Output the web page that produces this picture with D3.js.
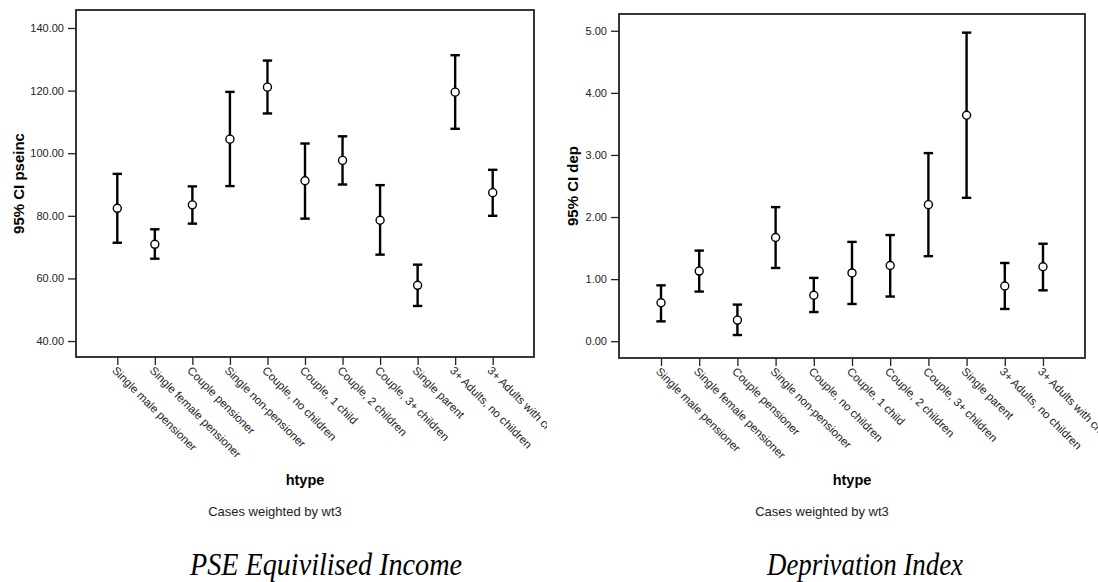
<!DOCTYPE html>
<html>
<head>
<meta charset="utf-8">
<script src="https://cdn.jsdelivr.net/npm/d3@7"></script>
<style>
  body { margin: 0; background: #fff; }
  svg { display: block; }
  .tick text { font-family: "Liberation Sans", Arial, sans-serif; fill: #222; }
</style>
</head>
<body>
<svg id="chart" width="1098" height="582"></svg>
<script>
// household types (x categories, same for both panels)
const categories = [
  "Single male pensioner", "Single female pensioner", "Couple pensioner",
  "Single non-pensioner", "Couple, no children", "Couple, 1 child",
  "Couple, 2 children", "Couple, 3+ children", "Single parent",
  "3+ Adults, no children", "3+ Adults with children"
];

// PSE equivalised income: mean and 95% CI
const incomeMean  = [82.4, 70.9, 83.5, 104.5, 121.1, 91.2, 97.7, 78.6, 57.8, 119.5, 87.4];
const incomeLower = [71.4, 66.3, 77.5, 89.5, 112.7, 79.1, 90.0, 67.6, 51.2, 107.8, 80.0];
const incomeUpper = [93.4, 75.7, 89.4, 119.6, 129.6, 103.1, 105.4, 89.8, 64.4, 131.3, 94.7];
const incomeTicks = [40, 60, 80, 100, 120, 140];

// deprivation index: mean and 95% CI
const depMean  = [0.62, 1.13, 0.34, 1.67, 0.74, 1.10, 1.22, 2.20, 3.64, 0.89, 1.20];
const depLower = [0.32, 0.80, 0.10, 1.18, 0.47, 0.60, 0.72, 1.37, 2.31, 0.52, 0.82];
const depUpper = [0.90, 1.46, 0.59, 2.16, 1.02, 1.60, 1.71, 3.03, 4.97, 1.26, 1.57];
const depTicks = [0, 1, 2, 3, 4, 5];

const svg = d3.select("#chart");

function drawPanel(opt) {
    const g = svg.append("g").attr("clip-path", `url(#${opt.id}-clip)`);
    svg.append("clipPath").attr("id", `${opt.id}-clip`)
        .append("rect").attr("x", opt.clip[0]).attr("y", 0)
        .attr("width", opt.clip[1] - opt.clip[0]).attr("height", 582);

    const x = d3.scalePoint().domain(categories)
        .range([opt.left, opt.right]).padding(1.1);
    const y = d3.scaleLinear().domain(opt.domain).range([opt.bottom, opt.top]);

    const rows = categories.map((c, i) => ({
        cat: c, mean: opt.mean[i], lo: opt.lower[i], hi: opt.upper[i]
    }));

    // frame
    g.append("rect")
        .attr("x", opt.left).attr("y", opt.top)
        .attr("width", opt.right - opt.left).attr("height", opt.bottom - opt.top)
        .attr("fill", "none").attr("stroke", "#222").attr("stroke-width", 1.8);

    // y axis
    const ya = g.append("g")
        .attr("transform", `translate(${opt.left},0)`)
        .call(d3.axisLeft(y).tickValues(opt.ticks).tickFormat(d3.format(".2f")).tickSize(8).tickPadding(4));
    ya.select(".domain").remove();
    ya.selectAll(".tick line").attr("stroke", "#222").attr("stroke-width", 1.3);
    ya.selectAll(".tick text").style("font-size", "11px");

    // x axis with slanted labels
    const xa = g.append("g")
        .attr("transform", `translate(0,${opt.bottom})`)
        .call(d3.axisBottom(x).tickSize(8).tickSizeOuter(0));
    xa.select(".domain").remove();
    xa.selectAll(".tick line").attr("stroke", "#222").attr("stroke-width", 1.3);
    xa.selectAll(".tick text")
        .style("font-size", "11.5px")
        .attr("text-anchor", "start")
        .attr("transform", "translate(0,8) rotate(45)")
        .attr("x", 0).attr("y", 0).attr("dy", "0.78em");

    // error bars
    const capW = 4.7;
    const bars = g.append("g").attr("stroke", "#000").attr("stroke-width", 2.4);
    bars.selectAll("line.ci").data(rows).join("line").attr("class", "ci")
        .attr("x1", d => x(d.cat)).attr("x2", d => x(d.cat))
        .attr("y1", d => y(d.lo)).attr("y2", d => y(d.hi));
    bars.selectAll("line.cap-hi").data(rows).join("line").attr("class", "cap-hi")
        .attr("x1", d => x(d.cat) - capW).attr("x2", d => x(d.cat) + capW)
        .attr("y1", d => y(d.hi)).attr("y2", d => y(d.hi));
    bars.selectAll("line.cap-lo").data(rows).join("line").attr("class", "cap-lo")
        .attr("x1", d => x(d.cat) - capW).attr("x2", d => x(d.cat) + capW)
        .attr("y1", d => y(d.lo)).attr("y2", d => y(d.lo));

    g.selectAll("circle.mean").data(rows).join("circle").attr("class", "mean")
        .attr("cx", d => x(d.cat)).attr("cy", d => y(d.mean)).attr("r", 4)
        .attr("fill", "#fff").attr("stroke", "#000").attr("stroke-width", 1.4);

    // labels
    const cx = (opt.left + opt.right) / 2;
    g.append("text")
        .attr("transform", `translate(${opt.yLabelX},${(opt.top + opt.bottom) / 2}) rotate(-90)`)
        .attr("text-anchor", "middle")
        .style("font", "bold 15px 'Liberation Sans', Arial, sans-serif")
        .text(opt.yLabel);
    g.append("text")
        .attr("x", cx).attr("y", 485).attr("text-anchor", "middle")
        .style("font", "bold 14.5px 'Liberation Sans', Arial, sans-serif")
        .text("htype");
    g.append("text")
        .attr("x", cx - 30).attr("y", 516).attr("text-anchor", "middle")
        .style("font", "13px 'Liberation Sans', Arial, sans-serif")
        .attr("fill", "#222")
        .text("Cases weighted by wt3");
    svg.append("text")
        .attr("x", opt.titleX).attr("y", 575).attr("text-anchor", "middle")
        .attr("textLength", opt.titleW).attr("lengthAdjust", "spacingAndGlyphs")
        .style("font", "italic 32px 'Liberation Serif', 'Times New Roman', serif")
        .text(opt.title);
}

drawPanel({
    id: "inc", left: 76, right: 534, top: 10, bottom: 357, clip: [0, 547],
    domain: [34.9, 145.75], ticks: incomeTicks,
    mean: incomeMean, lower: incomeLower, upper: incomeUpper,
    yLabel: "95% CI pseinc", yLabelX: 24,
    title: "PSE Equivilised Income", titleX: 326, titleW: 272
});

drawPanel({
    id: "dep", left: 619, right: 1085, top: 14, bottom: 358, clip: [549, 1098],
    domain: [-0.27, 5.27], ticks: depTicks,
    mean: depMean, lower: depLower, upper: depUpper,
    yLabel: "95% CI dep", yLabelX: 578,
    title: "Deprivation Index", titleX: 865, titleW: 196
});
</script>
</body>
</html>
